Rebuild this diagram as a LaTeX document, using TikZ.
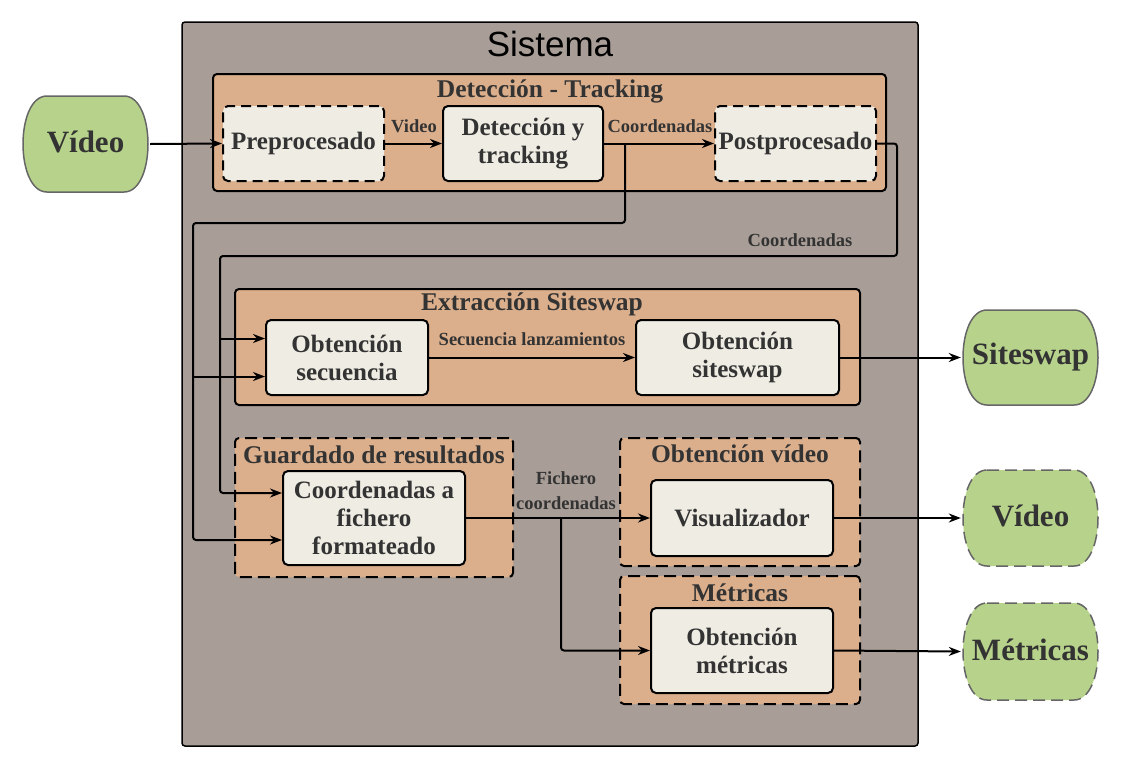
\documentclass[tikz,border=0pt]{standalone}
\usepackage{fontspec}
\setmainfont{Liberation Serif}
\newfontfamily\sysfont{Liberation Sans}
\usetikzlibrary{arrows.meta,calc}
\definecolor{sysgray}{HTML}{A99E97}
\definecolor{tanc}{HTML}{DCAF8C}
\definecolor{creamc}{HTML}{EFECE3}
\definecolor{greenc}{HTML}{B7D38B}
\definecolor{txtc}{HTML}{333333}
\definecolor{termline}{HTML}{666666}
\tikzset{
  sysbox/.style={draw=black,fill=sysgray,line width=1.5pt,rounded corners=3pt,inner sep=0pt},
  grp/.style={draw=black,fill=tanc,line width=2pt,rounded corners=4pt,inner sep=0pt},
  grpd/.style={grp,dash pattern=on 12pt off 6pt},
  proc/.style={draw=black,fill=creamc,line width=2pt,rounded corners=5pt,inner sep=0pt,align=center,text=txtc,font=\fontsize{25}{28}\selectfont\bfseries},
  procd/.style={proc,dash pattern=on 10pt off 6pt},
  gtitle/.style={text=txtc,font=\fontsize{25.5}{28}\selectfont\bfseries,inner sep=0pt},
  lbl/.style={text=txtc,font=\fontsize{18.5}{25}\selectfont\bfseries,inner sep=0pt,align=center},
  conn/.style={draw=black,line width=2pt,rounded corners=3pt},
  arr/.style={conn,-{Stealth[length=12pt,width=9pt]}},
  termline/.style={draw=termline,fill=greenc,line width=1.5pt},
  termtext/.style={text=txtc,font=\fontsize{31}{34}\selectfont\bfseries,inner sep=0pt},
}
\newcommand\myterm[7]{%
  \draw[termline,#7] ({#2-#4+26},{#3-#5}) -- ({#2+#4-26},{#3-#5})
    .. controls ({#2+#4+6},{#3-#5}) and ({#2+#4+6},{#3+#5}) .. ({#2+#4-26},{#3+#5})
    -- ({#2-#4+26},{#3+#5})
    .. controls ({#2-#4-6},{#3+#5}) and ({#2-#4-6},{#3-#5}) .. cycle;
  \node[termtext,minimum width={2*#4},minimum height={2*#5}] (#1) at (#2,#3) {\raisebox{4pt}{#6}};
}
\begin{document}
\begin{tikzpicture}[x=1pt,y=-1pt]
\useasboundingbox (0,0) rectangle (1122,769);
% system
\node[sysbox,minimum width=736,minimum height=724] (sys) at (550,384) {};
\node[text=black,font=\sysfont\fontsize{35}{38}\selectfont,inner sep=0pt] (systitle) at (550,44) {Sistema};
% groups
\node[grp,minimum width=673,minimum height=117] (gdet) at (549.5,132.5) {};
\node[gtitle] (tdet) at (550,91) {Detección - Tracking};
\node[grp,minimum width=625,minimum height=116] (gext) at (547.5,347) {};
\node[gtitle] (text) at (532,304) {Extracción Siteswap};
\node[grpd,minimum width=278,minimum height=139] (gguar) at (374,507.5) {};
\node[gtitle] (tguar) at (374,455) {Guardado de resultados};
\node[grpd,minimum width=240,minimum height=128] (gvid) at (740,502) {};
\node[gtitle] (tvid) at (740,454) {Obtención vídeo};
\node[grpd,minimum width=240,minimum height=128] (gmet) at (740,640) {};
\node[gtitle] (tmet) at (740,593) {Métricas};
% processes
\node[procd,minimum width=161,minimum height=75] (pre) at (303.5,143.5) {Preprocesado};
\node[proc,minimum width=160,minimum height=75] (det) at (523,143.5) {Detección y\\tracking};
\node[procd,minimum width=161,minimum height=75] (post) at (795.5,143.5) {Postprocesado};
\node[proc,minimum width=162,minimum height=75] (os) at (347,357.5) {Obtención\\secuencia};
\node[proc,minimum width=203,minimum height=75] (osw) at (737.5,357.5) {Obtención\\siteswap};
\node[proc,minimum width=182,minimum height=94] (cf) at (374,518) {Coordenadas a\\fichero\\formateado};
\node[proc,minimum width=182,minimum height=76] (vis) at (742,518) {Visualizador};
\node[proc,minimum width=182,minimum height=85] (om) at (742,650.5) {Obtención\\métricas};
% terminals
\myterm{vin}{85.5}{144}{64.5}{48}{Vídeo}{}
\myterm{sws}{1030.5}{357.5}{69.5}{47.5}{Siteswap}{}
\myterm{vout}{1030.5}{518}{69.5}{48}{Vídeo}{dash pattern=on 12pt off 6pt}
\myterm{mout}{1030.5}{651.5}{69.5}{48.5}{Métricas}{dash pattern=on 12pt off 6pt}
% junction coordinates
\coordinate (j1) at (625,143.5);
\coordinate (j2) at (193,376.5);
\coordinate (j3) at (220,338.5);
\coordinate (j4) at (561,518);
% connectors
\draw[arr] (vin.east) -- (pre.west);
\draw[arr] (pre.east) -- (det.west);
\node[lbl] (lvideo) at (414,126) {Video};
\draw[arr] (det.east) -- (post.west);
\node[lbl] (lcoord1) at (660,126) {Coordenadas};
\draw[arr] (j1) -- (625,223) -- (193,223) |- ([yshift=-22pt]cf.west);
\draw[arr] (j2) -- ([yshift=-19pt]os.west);
\draw[arr] (post.east) -- (897,143.5) -- (897,256) -- (220,256) |- ([yshift=25pt]cf.west);
\draw[arr] (j3) -- ([yshift=19pt]os.west);
\node[lbl] (lcoord2) at (800,240) {Coordenadas};
\draw[arr] (os.east) -- (osw.west);
\node[lbl] (lsec) at (532,339) {Secuencia lanzamientos};
\draw[arr] (osw.east) -- (sws.west);
\draw[arr] (cf.east) -- (vis.west);
\node[lbl] (lfich) at (566,491) {Fichero\\coordenadas};
\draw[arr] (j4) |- (om.west);
\draw[arr] (vis.east) -- (vout.west);
\draw[arr] (om.east) -- (mout.west);
\end{tikzpicture}
\end{document}
